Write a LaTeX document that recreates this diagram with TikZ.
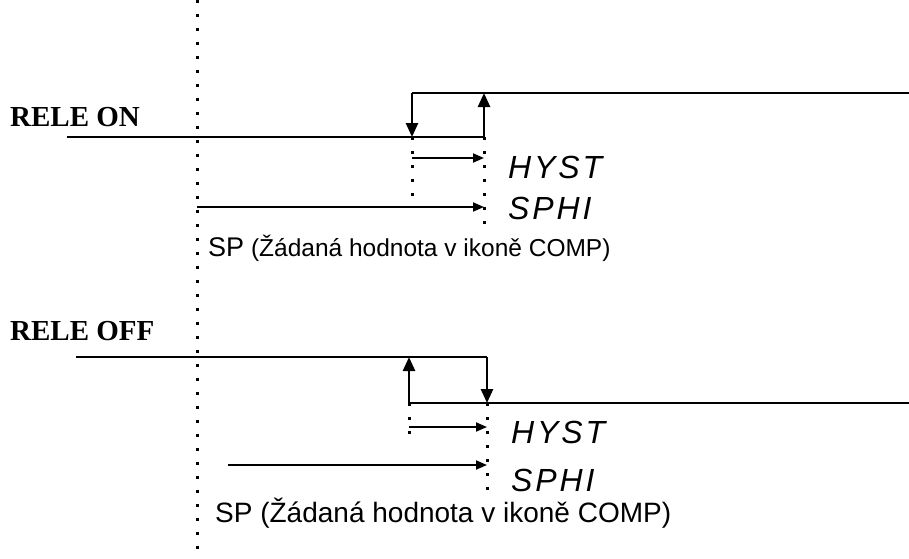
\documentclass[tikz,border=0pt]{standalone}
\usepackage{fontspec}
\setmainfont{Liberation Serif}
\newfontfamily\arialfont{Liberation Sans}
\newfontfamily\segfont[LetterSpace=9.0]{Liberation Sans}
\usetikzlibrary{arrows.meta}

\tikzset{
  relay/.style={line width=2.5pt},
  bigtip/.style={-{Triangle[length=14pt,width=12pt]}},
  smalltip/.style={line width=1.8pt,-{Triangle[length=11pt,width=9pt]}},
  dotline/.style={line width=3pt,dash pattern=on 3pt off 11pt},
  relename/.style={anchor=base west,font=\bfseries\fontsize{29}{32}\selectfont},
  segname/.style={anchor=base west,font=\segfont\itshape\fontsize{32}{35}\selectfont},
  spname/.style={anchor=base west,font=\arialfont\fontsize{24.5}{28}\selectfont}
}

\begin{document}
\begin{tikzpicture}[x=1pt,y=-1pt,inner sep=0pt]
  \useasboundingbox (0,0) rectangle (909,558);
  % main set point line
  \coordinate (sptop) at (197,0);
  \coordinate (spbot) at (197,558);
  \draw [dotline] (sptop) -- (spbot);

  % RELE ON
  \node [relename] (ontext) at (10,126) {RELE ON};
  \coordinate (onstart) at (67,137);
  \coordinate (onrise) at (484,137);
  \coordinate (onup) at (484,93);
  \coordinate (onback) at (412,93);
  \coordinate (ondown) at (412,137);
  \coordinate (onend) at (909,93);
  \draw [relay] (onstart) -- (onrise);
  \draw [relay,bigtip] (onrise) -- (onup);
  \draw [relay] (onback) -- (onend);
  \draw [relay,bigtip] (onback) -- (ondown);
  \coordinate (onhyA) at (412,158);
  \coordinate (onhyB) at (484,158);
  \coordinate (onspA) at (197,207);
  \coordinate (onspB) at (484,207);
  \coordinate (ondotA) at (412,207);
  \coordinate (ondotB) at (484,225);
  \draw [dotline] (ondown) -- (ondotA);
  \draw [dotline] (onrise) -- (ondotB);
  \draw [smalltip] (onhyA) -- (onhyB);
  \draw [smalltip] (onspA) -- (onspB);
  \node [segname] (onhyst) at (508,178) {HYST};
  \node [segname] (onsphi) at (508,219) {SPHI};
  \node [spname] (onsp) at (208,256) {{\fontsize{27}{30}\selectfont SP} (Žádaná hodnota v ikoně COMP)};

  % RELE OFF
  \node [relename] (offtext) at (10,340) {RELE OFF};
  \coordinate (offstart) at (76,357);
  \coordinate (offfall) at (487,357);
  \coordinate (offdown) at (487,403);
  \coordinate (offback) at (409,403);
  \coordinate (offup) at (409,357);
  \coordinate (offend) at (909,403);
  \draw [relay] (offstart) -- (offfall);
  \draw [relay,bigtip] (offfall) -- (offdown);
  \draw [relay] (offback) -- (offend);
  \draw [relay,bigtip] (offback) -- (offup);
  \coordinate (offhyA) at (409,427);
  \coordinate (offhyB) at (487,427);
  \coordinate (offspA) at (228,465);
  \coordinate (offspB) at (487,465);
  \coordinate (offdotA) at (409,445);
  \coordinate (offdotB) at (487,490);
  \draw [dotline] (offback) -- (offdotA);
  \draw [dotline] (offdown) -- (offdotB);
  \draw [smalltip] (offhyA) -- (offhyB);
  \draw [smalltip] (offspA) -- (offspB);
  \node [segname] (offhyst) at (511,443) {HYST};
  \node [segname] (offsphi) at (511,491) {SPHI};
  \node [spname,font=\arialfont\fontsize{28}{32}\selectfont] (offsp) at (215,522) {SP (Žádaná hodnota v ikoně COMP)};
\end{tikzpicture}
\end{document}
